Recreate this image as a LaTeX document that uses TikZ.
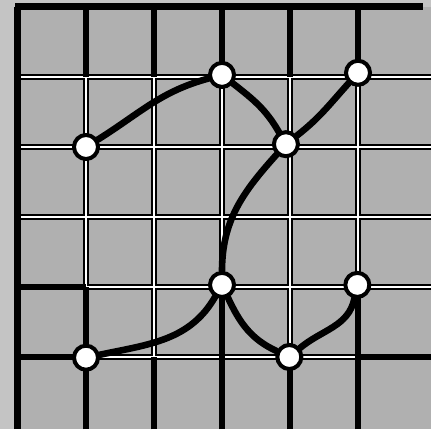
\documentclass[tikz,border=0pt]{standalone}
\usepackage{tikz}
\definecolor{raster}{RGB}{176,176,176}
\definecolor{rand}{RGB}{196,196,196}

\begin{document}
\begin{tikzpicture}[x=34mm, y=35mm,
		knoten/.style={circle, draw=black, fill=white, line width=2mm, minimum size=12mm, inner sep=0pt},
		weg/.style={line width=3.3mm, line cap=round},
		linie/.style={line width=3.4mm},
		strasse/.style={line width=2.8mm}]
	%Bildbereich
	\useasboundingbox (-0.2647,-0.0286) rectangle (6.0735,6.1);
	\fill[rand] (-0.2647,-0.0286) rectangle (6.0735,6.1);
	\fill[raster] (0,-0.0286) rectangle (6.0735,6);
	%Raster zeichnen
	\foreach \x in {1,...,5} \draw[linie] (\x,-0.0286) -- (\x,6);
	\foreach \y in {1,...,5} \draw[linie] (0,\y) -- (6.0735,\y);
	\foreach \x in {1,...,5} \draw[white, line width=1.4mm] (\x,-0.0286) -- (\x,6);
	\foreach \y in {1,...,5} \draw[white, line width=1.4mm] (0,\y) -- (6.0735,\y);
	% Rand und Strassen
	\draw[line width=3.5mm] (-0.04,6) -- (5.96,6);
	\draw[line width=3.5mm] (0,-0.0286) -- (0,6);
	\foreach \x in {1,...,5} \draw[strasse] (\x,-0.0286) -- (\x,1) (\x,5) -- (\x,6);
	\draw[strasse] (3,1) -- (3,2) (5,1) -- (5,2) (1,1) -- (1,2)
		(0,2) -- (1,2) (0,1) -- (1,1) (5,1) -- (6.0735,1);
	%Punkte
	\node[knoten] (a) at (1,4) {};
	\node[knoten] (b) at (3,5.03) {};
	\node[knoten] (c) at (5,5.06) {};
	\node[knoten] (d) at (3.94,4.04) {};
	\node[knoten] (e) at (3,2.03) {};
	\node[knoten] (f) at (4.99,2.03) {};
	\node[knoten] (g) at (1,0.99) {};
	\node[knoten] (h) at (3.99,1) {};
	%Wege
	\draw[weg] (a) to[out=32,in=195] (b);
	\draw[weg] (b) to[out=-38,in=120] (d);
	\draw[weg] (c) to[out=228,in=38] (d);
	\draw[weg] (d) to[out=228,in=90] (e);
	\draw[weg] (e) to[out=240,in=12] (g);
	\draw[weg] (e) to[out=-65,in=155] (h);
	\draw[weg] (h) to[out=40,in=258] (f);
\end{tikzpicture}
\end{document}
